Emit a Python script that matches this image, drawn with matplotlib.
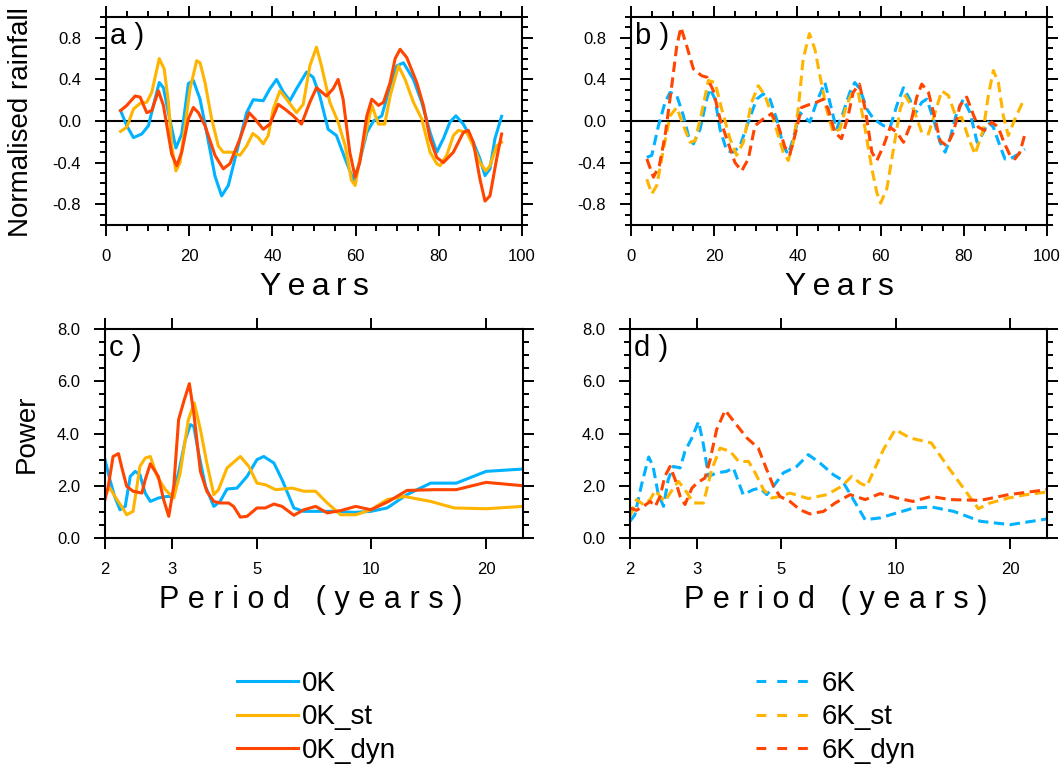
import matplotlib
matplotlib.use("Agg")
import matplotlib.pyplot as plt
from matplotlib.lines import Line2D
from matplotlib.ticker import MultipleLocator, FixedLocator, FormatStrFormatter, NullLocator

plt.rcParams["font.family"] = ["Liberation Sans", "DejaVu Sans"]
plt.rcParams["axes.unicode_minus"] = False

BLUE = "#00B2FF"
ORANGE = "#FFB400"
RED = "#FF4500"

# ---- panel a: normalised rainfall, 0K runs ----
a_0k_yr = [3.5, 5, 6.6, 8.6, 10.2, 11.4, 12.8, 13.8, 15, 16.8, 18.2, 19.8, 21, 22.6, 24.2, 26.2, 27.8, 29.4,
           31.4, 33.8, 35.4, 37.8, 39.4, 41, 42.6, 44.2, 45.8, 48.2, 49.8, 51.4, 53.4, 55.4, 57.5, 59.5, 60.7,
           62.7, 64.3, 66.3, 68.3, 69.9, 71.5, 73.9, 75.9, 77.9, 79.5, 81.1, 82.7, 84.1, 85.9, 88.3, 89.9,
           91.1, 92.3, 93.5, 95.1]
a_0k = [0.10, -0.045, -0.16, -0.125, -0.045, 0.15, 0.37, 0.32, 0.08, -0.26, -0.125, 0.36, 0.39, 0.21, -0.11,
        -0.53, -0.72, -0.62, -0.30, 0.08, 0.205, 0.195, 0.31, 0.40, 0.28, 0.195, 0.31, 0.47, 0.42, 0.24, -0.08,
        -0.14, -0.365, -0.57, -0.43, -0.11, 0.0, 0.05, 0.34, 0.53, 0.56, 0.40, 0.18, -0.11, -0.30, -0.17, -0.01,
        0.05, -0.03, -0.205, -0.365, -0.525, -0.46, -0.17, 0.045]

a_0k_st_yr = [3.5, 5, 6.6, 8.2, 9.8, 11, 12.8, 14, 15, 15.8, 16.8, 17.8, 19, 20.2, 21.8, 22.6, 23.8, 25.4, 27,
              28.2, 30.2, 32.2, 33.8, 35.3, 36.6, 37.8, 39, 40.2, 41.8, 43.4, 45.8, 47.4, 49, 50.6, 51.8, 53.8,
              55.8, 57.5, 59, 59.9, 61, 62.3, 63.9, 65.5, 67, 68.3, 70.3, 71.9, 73.9, 75.9, 77.9, 79.5, 80.3,
              81.9, 83.5, 84.7, 86.7, 88.3, 89.9, 91.3, 92.3, 93.9, 95.1]
a_0k_st = [-0.10, -0.06, 0.115, 0.17, 0.18, 0.275, 0.60, 0.50, 0.18, -0.24, -0.48, -0.40, -0.045, 0.31, 0.58,
           0.56, 0.37, 0.02, -0.24, -0.30, -0.30, -0.33, -0.24, -0.12, -0.16, -0.22, -0.14, 0.115, 0.29, 0.21,
           0.08, 0.16, 0.53, 0.71, 0.53, 0.18, -0.01, -0.24, -0.57, -0.62, -0.365, -0.14, 0.15, -0.03, -0.03,
           0.24, 0.53, 0.40, 0.18, 0.02, -0.30, -0.41, -0.43, -0.33, -0.14, -0.09, -0.11, -0.24, -0.40, -0.48,
           -0.43, -0.24, -0.205]

a_0k_dyn_yr = [3.5, 5, 7, 8.2, 9.8, 11, 12.6, 13.8, 15.8, 17, 18.2, 19.8, 21, 22.2, 23.8, 26.2, 28.2, 29.8,
               32.2, 34.4, 35.8, 37.8, 39.4, 41.4, 43, 45, 47, 49, 50.6, 53, 54.6, 55.8, 57, 58.6, 59.9, 61,
               62.7, 63.9, 65.5, 66.7, 68.3, 69.5, 70.7, 72.3, 74.7, 76.3, 77.9, 79.5, 81.1, 83.5, 85.9, 87.1,
               88.3, 89.9, 91.1, 92.3, 93.9, 95.1]
a_0k_dyn = [0.10, 0.15, 0.24, 0.23, 0.08, 0.10, 0.29, 0.15, -0.32, -0.43, -0.30, 0.02, 0.13, 0.08, -0.045,
            -0.33, -0.46, -0.41, -0.17, 0.08, 0.02, -0.08, -0.03, 0.16, 0.115, 0.05, -0.03, 0.18, 0.32, 0.24,
            0.31, 0.40, 0.21, -0.30, -0.54, -0.40, 0.05, 0.21, 0.15, 0.18, 0.37, 0.60, 0.69, 0.61, 0.37, 0.15,
            -0.17, -0.35, -0.40, -0.30, -0.11, -0.09, -0.205, -0.56, -0.77, -0.72, -0.365, -0.125]

# ---- panel b: normalised rainfall, 6K runs ----
b_6k_yr = [3.8, 5, 6.6, 8.2, 9.4, 11, 12.6, 13.8, 15, 16.6, 18.2, 19, 20.2, 21.4, 23, 24.6, 26.2, 28.2, 30.2,
           31.8, 33.4, 35, 36.6, 37.8, 39, 40.6, 41.8, 43, 44.6, 46.6, 47.8, 49.4, 51, 52.6, 53.8, 55, 56.7,
           58.3, 60.7, 62.3, 63.9, 65.5, 67, 68.3, 69.9, 71.1, 72.7, 74.3, 75.5, 76.7, 78.3, 79.9, 81.5, 83.2,
           84.3, 85.9, 87.1, 88.7, 89.9, 91.1, 93.1, 94.7]
b_6k = [-0.35, -0.33, -0.045, 0.18, 0.275, 0.245, 0.05, -0.14, -0.22, -0.08, 0.21, 0.31, 0.21, -0.08, -0.285,
        -0.30, -0.24, -0.01, 0.21, 0.26, 0.21, 0.02, -0.24, -0.32, -0.17, 0.08, 0.035, -0.01, 0.18, 0.37, 0.18,
        -0.08, 0.08, 0.275, 0.37, 0.31, 0.115, 0.02, -0.045, -0.06, 0.15, 0.32, 0.21, 0.07, 0.18, 0.21, 0.02,
        -0.205, -0.30, -0.17, 0.08, 0.21, 0.08, -0.205, -0.14, -0.01, -0.06, -0.24, -0.365, -0.365, -0.32, -0.27]

b_6k_st_yr = [3.8, 5, 6.2, 7.8, 9.4, 11, 12.6, 14.2, 15.4, 17, 18.6, 20.2, 21.8, 23.8, 25.4, 27, 29, 30.6, 32.2,
              34.2, 36.6, 37.8, 39, 40.2, 41.4, 42.9, 44.2, 45.4, 47, 48.6, 50.2, 51.8, 53, 54.6, 56.3, 57.9,
              59.1, 60, 61.5, 63.1, 64.7, 65.9, 67.9, 69.9, 71.5, 73.1, 74.7, 76.3, 78.3, 79.5, 81.1, 82.7, 84.7,
              85.9, 87.1, 88.3, 89.5, 90.7, 92.3, 94.3]
b_6k_st = [-0.56, -0.70, -0.62, -0.27, 0.05, 0.13, -0.045, -0.205, -0.19, 0.08, 0.39, 0.37, 0.115, -0.17, -0.33,
           -0.205, 0.18, 0.34, 0.245, 0.02, -0.30, -0.38, -0.205, 0.115, 0.60, 0.84, 0.69, 0.44, 0.115, -0.11,
           -0.08, 0.15, 0.26, 0.275, -0.08, -0.46, -0.69, -0.79, -0.65, -0.27, 0.115, 0.245, 0.115, -0.11, -0.125,
           0.08, 0.29, 0.245, 0.02, 0.035, -0.16, -0.32, -0.08, 0.245, 0.485, 0.37, 0.05, -0.14, 0.02, 0.195]

b_6k_dyn_yr = [3.8, 5.4, 6.8, 8.2, 9.8, 11, 12, 13.4, 15, 17, 18.3, 19.8, 21.4, 23, 25, 26.6, 28.2, 29.8, 31.8,
               33.8, 35.4, 37, 38.2, 39.4, 41, 43, 44.6, 46.2, 47.4, 49, 50.6, 52.2, 53.4, 54.9, 56.3, 57.9, 59.1,
               60.7, 62.3, 63.9, 65.5, 67.1, 68.7, 69.9, 71.5, 73.1, 74.3, 75.9, 77.5, 79.1, 80.7, 82.1, 83.5, 85,
               86.7, 88.3, 89.5, 91.1, 92.3, 93.5, 94.7]
b_6k_dyn = [-0.365, -0.54, -0.43, -0.14, 0.34, 0.72, 0.90, 0.72, 0.50, 0.435, 0.42, 0.29, 0.02, -0.17, -0.40,
            -0.48, -0.365, -0.045, 0.02, 0.07, -0.045, -0.25, -0.32, -0.14, 0.13, 0.16, 0.18, 0.21, 0.115, -0.11,
            -0.17, 0.05, 0.275, 0.355, 0.115, -0.30, -0.38, -0.24, -0.06, -0.11, -0.205, -0.045, 0.23, 0.355,
            0.275, 0.02, -0.19, -0.24, -0.11, 0.15, 0.23, 0.08, -0.06, -0.09, -0.01, -0.06, -0.19, -0.33, -0.365,
            -0.30, -0.125]

# ---- panel c: power spectra, 0K runs ----
c_0k_per = [2, 2.06, 2.12, 2.19, 2.26, 2.33, 2.4, 2.47, 2.55, 2.63, 2.76, 2.91, 3.0, 3.12, 3.25, 3.35, 3.42,
            3.52, 3.67, 3.86, 4.01, 4.18, 4.44, 4.72, 5.01, 5.22, 5.55, 5.83, 6.26, 6.65, 7.21, 7.98, 9.01, 9.97,
            11.0, 12.4, 14.3, 16.7, 20, 25]
c_0k = [3.0, 2.23, 1.59, 1.08, 1.21, 2.36, 2.55, 2.42, 1.72, 1.40, 1.53, 1.59, 1.59, 2.49, 3.76, 4.34, 4.27,
        3.25, 1.98, 1.21, 1.40, 1.875, 1.91, 2.36, 3.0, 3.12, 2.87, 2.23, 1.15, 1.02, 1.02, 1.02, 0.98, 1.02,
        1.15, 1.66, 2.10, 2.10, 2.55, 2.64]

c_0k_st_per = [2, 2.06, 2.15, 2.21, 2.28, 2.37, 2.47, 2.55, 2.63, 2.74, 2.88, 3.03, 3.15, 3.31, 3.43, 3.56, 3.7,
               3.86, 3.97, 4.18, 4.53, 4.77, 5.01, 5.27, 5.61, 6.2, 6.65, 7.14, 7.66, 8.31, 9.1, 9.97, 11.0, 12.2,
               14.3, 16.5, 20, 25]
c_0k_st = [1.72, 1.91, 1.47, 1.21, 0.89, 1.02, 2.74, 3.06, 3.12, 2.36, 1.85, 1.53, 2.49, 4.53, 5.17, 4.15, 2.87,
           1.66, 1.85, 2.68, 3.12, 2.74, 2.10, 2.04, 1.85, 1.91, 1.79, 1.79, 1.34, 0.89, 0.89, 1.08, 1.47, 1.59,
           1.40, 1.15, 1.12, 1.21]

c_0k_dyn_per = [2, 2.04, 2.1, 2.17, 2.21, 2.28, 2.37, 2.5, 2.55, 2.63, 2.76, 2.85, 2.94, 3.03, 3.12, 3.22, 3.33,
                3.42, 3.56, 3.7, 3.86, 4.01, 4.22, 4.35, 4.53, 4.72, 5.01, 5.27, 5.55, 5.83, 6.26, 6.65, 7.14,
                7.66, 8.31, 9.1, 9.97, 11.1, 12.4, 14.6, 16.7, 20, 25]
c_0k_dyn = [1.47, 1.98, 3.12, 3.23, 2.74, 1.98, 1.79, 1.72, 2.23, 2.84, 2.36, 1.47, 0.83, 1.98, 4.53, 5.23,
            5.91, 4.78, 2.55, 1.79, 1.40, 1.34, 1.34, 1.21, 0.80, 0.83, 1.15, 1.15, 1.30, 1.21, 0.87, 1.08, 1.21,
            0.96, 1.05, 1.21, 1.08, 1.40, 1.82, 1.85, 1.85, 2.13, 2.0]

# ---- panel d: power spectra, 6K runs ----
d_6k_per = [2, 2.06, 2.15, 2.24, 2.3, 2.37, 2.45, 2.52, 2.6, 2.71, 2.79, 2.91, 3.03, 3.12, 3.22, 3.38, 3.59,
            3.74, 3.97, 4.22, 4.4, 4.58, 4.77, 5.06, 5.49, 5.89, 6.32, 6.86, 7.21, 7.74, 8.31, 9.1, 10.07, 11.1,
            12.4, 14.2, 16.7, 20, 25]
d_6k = [0.64, 0.89, 2.10, 3.10, 2.74, 1.72, 1.21, 2.23, 2.74, 2.68, 3.32, 3.83, 4.46, 3.57, 2.36, 2.49, 2.55,
        2.68, 1.66, 1.85, 1.91, 1.66, 1.98, 2.49, 2.74, 3.19, 2.87, 2.42, 2.23, 1.47, 0.70, 0.77, 0.96, 1.14,
        1.19, 1.02, 0.64, 0.51, 0.73]

d_6k_st_per = [2, 2.08, 2.17, 2.26, 2.33, 2.4, 2.47, 2.55, 2.68, 2.79, 2.94, 3.12, 3.28, 3.45, 3.67, 3.86, 4.1,
               4.27, 4.49, 4.72, 4.96, 5.27, 5.89, 6.59, 7.21, 7.66, 8.06, 8.39, 9.28, 9.97, 10.9, 12.4, 13.9,
               15.4, 16.5, 17.7, 19.8, 22.1, 25]
d_6k_st = [0.83, 1.47, 1.28, 1.47, 1.82, 1.59, 1.40, 1.72, 2.17, 1.85, 1.34, 1.34, 2.61, 3.44, 3.32, 2.93, 2.93,
           2.49, 1.85, 1.53, 1.59, 1.72, 1.51, 1.66, 1.98, 2.36, 2.10, 1.98, 3.38, 4.15, 3.83, 3.64, 2.61, 1.72,
           1.12, 1.34, 1.53, 1.66, 1.76]

d_6k_dyn_per = [2, 2.08, 2.17, 2.26, 2.33, 2.4, 2.47, 2.55, 2.63, 2.71, 2.79, 2.91, 3.0, 3.15, 3.25, 3.38, 3.56,
                3.78, 4.06, 4.35, 4.58, 4.77, 4.96, 5.27, 5.6, 5.95, 6.46, 6.93, 7.59, 8.31, 9.1, 10.07, 11.1,
                12.4, 13.9, 16.7, 19.8, 25]
d_6k_dyn = [1.15, 1.06, 1.21, 1.40, 1.21, 1.59, 2.36, 2.74, 2.23, 1.59, 1.28, 1.91, 2.10, 2.30, 3.0, 4.15, 4.89,
            4.40, 3.83, 3.44, 2.61, 1.98, 1.59, 1.40, 1.08, 0.92, 1.02, 1.34, 1.66, 1.47, 1.70, 1.53, 1.40, 1.59,
            1.47, 1.44, 1.66, 1.85]

labels_0k = ["0K", "0K_st", "0K_dyn"]
labels_6k = ["6K", "6K_st", "6K_dyn"]
period_ticks = [2, 3, 5, 10, 20]

LW = 2.2
DASH = (3.4, 1.8)
W, H = 1064, 767


def spaced(s, gap="\u2009"):
    # the original labels are drawn with wide letter spacing
    return gap.join(s)


def frac(left, top, right, bottom):
    return [left / W, 1 - bottom / H, (right - left) / W, (bottom - top) / H]


def style_axes(ax):
    for sp in ax.spines.values():
        sp.set_linewidth(1.5)
    ax.tick_params(which="both", direction="out", top=True, right=True, width=1.4,
                   labelsize=12, colors="black")
    ax.tick_params(which="major", length=8)
    ax.tick_params(which="minor", length=4)
    ax.tick_params(axis="x", pad=9)
    ax.tick_params(axis="y", pad=10)


def rain_axes(ax, letter):
    style_axes(ax)
    ax.set_xlim(0, 100)
    ax.set_ylim(-1, 1)
    ax.xaxis.set_major_locator(MultipleLocator(20))
    ax.xaxis.set_minor_locator(MultipleLocator(5))
    ax.yaxis.set_major_locator(MultipleLocator(0.4))
    ax.yaxis.set_minor_locator(MultipleLocator(0.1))
    ax.yaxis.set_major_formatter(FormatStrFormatter("%.1f"))
    ax.axhline(0, color="black", lw=1.5, zorder=1)
    ax.text(0.01, 0.975, letter, transform=ax.transAxes, fontsize=21, va="top", ha="left")


def power_axes(ax, letter):
    style_axes(ax)
    ax.set_xscale("log")
    ax.set_xlim(2, 25)
    ax.set_ylim(0, 8)
    ax.xaxis.set_major_locator(FixedLocator(period_ticks))
    ax.xaxis.set_major_formatter(FormatStrFormatter("%d"))
    ax.xaxis.set_minor_locator(NullLocator())
    ax.yaxis.set_major_locator(MultipleLocator(2))
    ax.yaxis.set_minor_locator(MultipleLocator(0.5))
    ax.yaxis.set_major_formatter(FormatStrFormatter("%.1f"))
    ax.text(0.01, 0.975, letter, transform=ax.transAxes, fontsize=21, va="top", ha="left")


fig = plt.figure(figsize=(W / 100, H / 100), dpi=100)

ax_a = fig.add_axes(frac(106, 17, 522, 225))
ax_b = fig.add_axes(frac(631, 17, 1047, 225))
ax_c = fig.add_axes(frac(105, 329, 523, 538))
ax_d = fig.add_axes(frac(630, 329, 1047, 538))

rain_axes(ax_a, "a )")
ax_a.plot(a_0k_yr, a_0k, color=BLUE, lw=LW)
ax_a.plot(a_0k_st_yr, a_0k_st, color=ORANGE, lw=LW)
ax_a.plot(a_0k_dyn_yr, a_0k_dyn, color=RED, lw=LW)

rain_axes(ax_b, "b )")
ax_b.plot(b_6k_yr, b_6k, color=BLUE, lw=LW, ls=(0, DASH))
ax_b.plot(b_6k_st_yr, b_6k_st, color=ORANGE, lw=LW, ls=(0, DASH))
ax_b.plot(b_6k_dyn_yr, b_6k_dyn, color=RED, lw=LW, ls=(0, DASH))

power_axes(ax_c, "c )")
ax_c.plot(c_0k_per, c_0k, color=BLUE, lw=LW)
ax_c.plot(c_0k_st_per, c_0k_st, color=ORANGE, lw=LW)
ax_c.plot(c_0k_dyn_per, c_0k_dyn, color=RED, lw=LW)

power_axes(ax_d, "d )")
ax_d.plot(d_6k_per, d_6k, color=BLUE, lw=LW, ls=(0, DASH))
ax_d.plot(d_6k_st_per, d_6k_st, color=ORANGE, lw=LW, ls=(0, DASH))
ax_d.plot(d_6k_dyn_per, d_6k_dyn, color=RED, lw=LW, ls=(0, DASH))

# axis titles
fig.text(21 / W, 1 - 122 / H, "Normalised rainfall", rotation=90, ha="center", va="center", fontsize=20)
fig.text(27 / W, 1 - 434 / H, "Power", rotation=90, ha="center", va="center", fontsize=20)
fig.text(314 / W, 1 - 287 / H, spaced("Years"), ha="center", va="center", fontsize=23)
fig.text(839 / W, 1 - 287 / H, spaced("Years"), ha="center", va="center", fontsize=23)
fig.text(311 / W, 1 - 600 / H, spaced("Period (years)", "\u2009\u200a"), ha="center", va="center", fontsize=22)
fig.text(836 / W, 1 - 600 / H, spaced("Period (years)", "\u2009\u200a"), ha="center", va="center", fontsize=22)

# legends
colors = [BLUE, ORANGE, RED]
solid_handles = [Line2D([], [], color=c, lw=LW) for c in colors]
dash_handles = [Line2D([], [], color=c, lw=LW, ls=(0, (3.2, 3.6))) for c in colors]
leg_kw = dict(frameon=False, fontsize=20, handlelength=2.2, handletextpad=0.15, labelspacing=0.27,
              borderpad=0, borderaxespad=0, loc="upper left", bbox_transform=fig.transFigure)
fig.legend(solid_handles, labels_0k, bbox_to_anchor=(237 / W, 1 - 671 / H), **leg_kw)
fig.legend(dash_handles, labels_6k, bbox_to_anchor=(756 / W, 1 - 671 / H), **leg_kw)

fig.savefig("out.png", dpi=100)
